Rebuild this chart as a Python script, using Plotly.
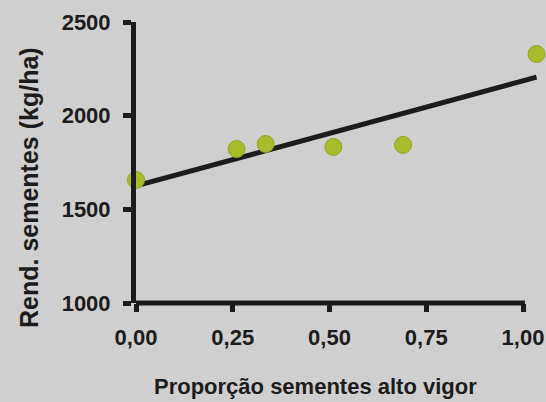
import plotly.graph_objects as go

# Data
proporcao = [0.0, 0.26, 0.335, 0.51, 0.69, 1.035]
rendimento = [1657, 1822, 1849, 1833, 1844, 2329]

# Trend line: y = intercept + slope * x
trend_intercept = 1625
trend_slope = 561

x_tickvals = [0.0, 0.25, 0.5, 0.75, 1.0]
x_ticktext = ["0,00", "0,25", "0,50", "0,75", "1,00"]
y_tickvals = [1000, 1500, 2000, 2500]
y_ticktext = ["1000", "1500", "2000", "2500"]

x_title = "Proporção sementes alto vigor"
y_title = "Rend. sementes (kg/ha)"

bg = "#cfcfcf"
ink = "#1c1c1c"
font_family = "Liberation Sans"

W, H = 546, 402
L, R, T, B = 136, 6, 22, 99
px_per_unit = 387.0
x_max = (W - L - R) / px_per_unit
x_axis_end = 1.005

trend_x = [min(proporcao), max(proporcao)]
trend_y = [trend_intercept + trend_slope * v for v in trend_x]

fig = go.Figure()
fig.add_trace(go.Scatter(
    x=trend_x, y=trend_y, mode="lines",
    line=dict(color=ink, width=5),
    cliponaxis=False, showlegend=False, hoverinfo="skip",
))
fig.add_trace(go.Scatter(
    x=proporcao, y=rendimento, mode="markers",
    marker=dict(size=17, color="#a8bb2b", line=dict(color="#93a324", width=1)),
    cliponaxis=False, showlegend=False,
))

# x axis line, ending just past the last tick as in the reference
fig.add_shape(type="line", xref="x", yref="paper",
              x0=-0.006, x1=x_axis_end, y0=0, y1=0,
              line=dict(color=ink, width=5), layer="above")

fig.update_layout(
    width=W, height=H,
    margin=dict(l=L, r=R, t=T, b=B),
    paper_bgcolor=bg, plot_bgcolor=bg,
    font=dict(family=font_family, color=ink, size=22),
    xaxis=dict(
        range=[0, x_max], tickvals=x_tickvals,
        ticktext=["<b>%s</b>" % t for t in x_ticktext],
        showgrid=False, zeroline=False, automargin=False,
        showline=False,
        ticks="outside", ticklen=8, tickwidth=5, tickcolor=ink,
        ticklabelstandoff=7,
        tickfont=dict(family=font_family, size=22, color=ink),
    ),
    yaxis=dict(
        range=[1000, 2500], tickvals=y_tickvals,
        ticktext=["<b>%s</b>" % t for t in y_ticktext],
        showgrid=False, zeroline=False, automargin=False,
        showline=True, linecolor=ink, linewidth=5,
        ticks="outside", ticklen=8, tickwidth=5, tickcolor=ink,
        ticklabelstandoff=8,
        tickfont=dict(family=font_family, size=22, color=ink),
    ),
    annotations=[
        dict(text="<b>%s</b>" % x_title, xref="paper", yref="paper",
             x=(315 - L) / (W - L - R), y=-(386 - 303) / 281,
             xanchor="center", yanchor="middle", showarrow=False,
             font=dict(family=font_family, size=22, color=ink)),
        dict(text="<b>%s</b>" % y_title, xref="paper", yref="paper",
             x=-(L - 29) / (W - L - R), y=(303 - 188) / 281,
             xanchor="center", yanchor="middle", textangle=-90, showarrow=False,
             font=dict(family=font_family, size=25, color=ink)),
    ],
)

fig.write_html("out.html", config={"displayModeBar": False},
               post_script="document.body.style.margin='0';document.body.style.overflow='hidden';")
